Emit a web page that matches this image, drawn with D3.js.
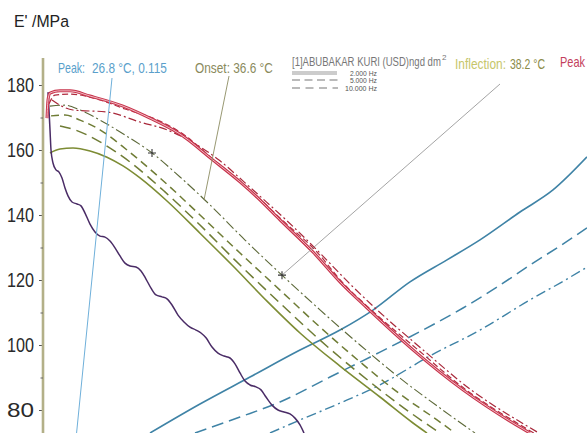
<!DOCTYPE html>
<html><head><meta charset="utf-8">
<script src="https://cdn.jsdelivr.net/npm/d3@7"></script>
<style>
body{margin:0;background:#fff}
svg{display:block;background:#fff}
text{font-family:"Liberation Sans",Arial,Helvetica,sans-serif}
</style>
</head><body>
<svg id="chart" width="587" height="433"></svg>
<script>
// ---------- DATA (temperature °C, value) ----------
const yTickValues = [80, 100, 120, 140, 160, 180];
const yMinorTickValues = [90, 110, 130, 150, 170];
const legendLabels = ["2.000 Hz", "5.000 Hz", "10.000 Hz"];

// Storage modulus E' (MPa), red set
const eRed2Hz = [[10.5,169.8],[10.6,175.4],[10.8,177.5],[11.8,178.2],[12.8,178.2],[14.8,176.6],[18.1,173.5],[20.8,169.8],[23.8,164.9],[27.1,156.9],[29.8,150.2],[31.5,145.5],[33.8,138.5],[37.1,128.6],[39.8,119.4],[42.5,111.4],[47.1,98.5],[52.1,86.2],[57.1,76.0],[58.8,72.9]];
const eRed5Hz = [[10.7,174.2],[11.3,176.9],[12.8,177.2],[15.8,175.4],[18.3,172.6],[21.1,169.8],[24.1,164.9],[27.2,156.9],[29.9,150.2],[31.6,145.5],[34.0,138.5],[37.5,128.6],[40.0,119.4],[42.7,111.4],[47.6,98.5],[52.4,86.2],[57.5,76.0],[59.2,72.9]];
const eRed10Hz = [[11.0,175.4],[11.8,173.8],[13.1,172.3],[16.5,171.7],[19.8,168.6],[22.5,166.2],[24.8,162.8],[27.7,156.9],[30.2,150.2],[31.9,145.5],[34.4,138.5],[37.7,128.6],[40.6,119.4],[43.3,111.4],[48.1,98.5],[52.9,86.2],[58.0,76.0],[59.7,72.9]];

// Storage modulus E' (MPa), olive set
const eOliveSolid = [[10.8,159.1],[11.8,160.3],[13.1,160.6],[14.8,159.7],[16.5,157.8],[18.1,155.1],[19.8,151.4],[22.5,144.3],[25.8,134.4],[29.1,124.3],[32.5,113.5],[35.8,103.7],[39.8,93.5],[43.8,84.0],[47.1,76.0],[48.5,72.9]];
const eOliveDash = [[10.9,170.5],[12.3,170.8],[13.8,169.2],[15.8,166.2],[18.5,160.0],[21.8,151.4],[25.8,140.0],[29.8,128.3],[33.8,116.9],[37.8,105.5],[41.8,94.8],[45.8,84.9],[49.8,76.3],[51.3,72.9]];
const eOliveLongDash = [[11.8,167.4],[13.3,166.2],[15.8,162.5],[18.8,156.3],[22.3,147.1],[25.8,136.9],[29.8,124.6],[33.8,112.9],[37.8,101.5],[41.8,91.1],[45.8,81.5],[49.8,72.9]];
const eOliveDashDot = [[10.8,173.5],[12.3,173.8],[13.8,172.3],[15.8,169.2],[18.3,164.6],[21.0,159.1],[23.8,151.7],[26.8,143.1],[30.3,132.3],[34.0,121.5],[37.8,110.8],[41.8,100.0],[45.8,89.8],[49.8,80.6],[53.3,72.9]];

// Purple curve (same MPa axis)
const ePurple = [[10.6,177.8],[10.7,172.3],[10.8,166.2],[10.9,160.0],[11.1,156.0],[11.4,153.9],[11.7,153.2],[12.0,151.4],[12.3,148.3],[12.6,145.9],[13.0,144.0],[13.5,143.4],[13.9,142.8],[14.3,140.6],[14.8,137.2],[15.3,134.8],[15.8,133.5],[16.3,133.2],[16.8,132.0],[17.3,129.9],[17.8,127.4],[18.3,125.2],[18.8,124.3],[19.4,124.0],[19.9,122.8],[20.4,120.3],[20.9,117.5],[21.4,115.4],[22.0,114.8],[22.5,114.2],[23.0,112.3],[23.6,109.2],[24.2,107.1],[24.8,105.5],[25.4,104.6],[25.9,103.7],[26.4,102.2],[27.0,99.4],[27.6,97.5],[28.2,96.6],[28.8,96.0],[29.3,94.2],[29.8,91.4],[30.3,88.9],[30.8,87.7],[31.4,87.1],[31.9,86.2],[32.4,84.0],[33.0,81.5],[33.6,80.0],[34.2,79.4],[34.8,78.8],[35.3,77.5],[35.8,75.4],[36.2,72.9]];

// tan delta (secondary, hidden axis), blue set
const tan2Hz = [[20.8,0.0200],[25.8,0.0300],[30.8,0.0393],[35.8,0.0486],[39.8,0.0555],[43.1,0.0624],[46.8,0.0721],[50.5,0.0797],[53.8,0.0866],[57.8,0.0962],[61.1,0.1038],[64.5,0.1152]];
const tan5Hz = [[25.3,0.0200],[29.8,0.0255],[33.8,0.0307],[38.8,0.0393],[43.8,0.0479],[48.1,0.0555],[52.1,0.0631],[55.5,0.0703],[58.8,0.0779],[61.8,0.0845],[64.5,0.0907]];
const tan10Hz = [[32.8,0.0200],[35.8,0.0245],[39.8,0.0303],[43.8,0.0366],[48.8,0.0466],[53.8,0.0555],[58.8,0.0659],[61.8,0.0717],[64.5,0.0772]];

// analysis points (temperature, E')
const onsetPoint = [21.0, 159.1];
const inflectionPoint = [34.0, 121.5];
const onsetPointerEnd = [26.2, 144.6];
const peakPointerEnd = [13.2, 65.0];

// ---------- CHART ----------
const svg = d3.select("#chart");
const x = d3.scaleLinear().domain([10, 64.5]).range([42, 587]);
const y = d3.scaleLinear().domain([180, 80]).range([85, 410]);
const yTan = d3.scaleLinear().domain([0.02, 0.14]).range([433, 85]);

svg.append("defs").append("clipPath").attr("id","plot")
  .append("rect").attr("x",43).attr("y",0).attr("width",544).attr("height",433);

const lineE = d3.line().x(d=>x(d[0])).y(d=>y(d[1])).curve(d3.curveMonotoneX);
const lineT = d3.line().x(d=>x(d[0])).y(d=>yTan(d[1])).curve(d3.curveMonotoneX);

const g = svg.append("g").attr("clip-path","url(#plot)");

function path(data, gen, stroke, width, dash){
  const p = g.append("path").datum(data).attr("d", gen)
    .attr("fill","none").attr("stroke",stroke).attr("stroke-width",width)
    .attr("stroke-linejoin","round");
  if (dash) p.attr("stroke-dasharray", dash);
  return p;
}

// blue set
path(tan2Hz, lineT, "#3f83a6", 1.6);
path(tan5Hz, lineT, "#3f83a6", 1.5, "12,6");
path(tan10Hz, lineT, "#3f83a6", 1.4, "10,4,2,4");

// olive set
path(eOliveSolid, lineE, "#7d8c34", 1.6);
path(eOliveLongDash, lineE, "#6f7c35", 1.5, "11,6");
path(eOliveDash, lineE, "#6f7c35", 1.5, "8,5");
path(eOliveDashDot, lineE, "#5c6838", 1.1, "10,3,2,3");

// purple
path(ePurple, lineE, "#4a2c66", 1.5);

// red set
path(eRed10Hz, lineE, "#a8283a", 1.2, "8,3,2,3");
path(eRed5Hz, lineE, "#b02a3e", 1.2, "6,3");
path(eRed2Hz, lineE, "#c8344c", 3.0);
path(eRed2Hz, lineE, "#f4c9d0", 0.9);

// pointer lines
g.append("line").attr("x1",112).attr("y1",78)
  .attr("x2",x(peakPointerEnd[0])).attr("y2",y(peakPointerEnd[1]))
  .attr("stroke","#6fb0da").attr("stroke-width",1);
g.append("line").attr("x1",229).attr("y1",76)
  .attr("x2",x(onsetPointerEnd[0])).attr("y2",y(onsetPointerEnd[1]))
  .attr("stroke","#8c8c62").attr("stroke-width",0.9);
g.append("line").attr("x1",500).attr("y1",84)
  .attr("x2",x(inflectionPoint[0])).attr("y2",y(inflectionPoint[1]))
  .attr("stroke","#9a9a9a").attr("stroke-width",0.9);

// + markers
[onsetPoint, inflectionPoint].forEach(p=>{
  const cx = x(p[0]), cy = y(p[1]);
  g.append("path").attr("d",`M${cx-4},${cy}H${cx+4}M${cx},${cy-4}V${cy+4}`)
    .attr("stroke","#333").attr("stroke-width",1.1);
});

// axis
const axis = svg.append("g").attr("transform","translate(43,0)");
axis.call(d3.axisLeft(y).tickValues(yTickValues).tickSize(4).tickPadding(5).tickSizeOuter(0));
axis.select(".domain").remove();
axis.append("line").attr("x1",0).attr("x2",0).attr("y1",58).attr("y2",433)
  .attr("stroke","#b3b088").attr("stroke-width",2.6);
axis.selectAll(".tick line").attr("stroke","#555").attr("stroke-width",1);
axis.selectAll(".tick text").attr("fill","#2a2a2a").attr("font-size",20)
  .attr("textLength",27).attr("lengthAdjust","spacingAndGlyphs")
  .attr("font-family","'Liberation Sans',Arial,sans-serif");
const minor = svg.append("g").attr("transform","translate(43,0)");
minor.call(d3.axisLeft(y).tickValues(yMinorTickValues).tickSize(2.5).tickFormat(""));
minor.select(".domain").remove();
minor.selectAll(".tick line").attr("stroke","#666");

// condensed labels: natural font, then squeezed horizontally to target width
function label(txt, xx, yy, size, len, fill, anchor){
  const t = svg.append("text").attr("x",0).attr("y",0).attr("font-size",size)
    .attr("fill",fill).text(txt);
  const w = t.node().getComputedTextLength();
  const sx = len / w;
  const x0 = anchor === "end" ? xx - len : xx;
  t.attr("transform",`translate(${x0},${yy}) scale(${sx},1)`);
  return t;
}

// title
label("E' /MPa", 14, 27, 17, 55, "#222");

// annotations
label("Peak:", 58, 73, 14, 27, "#5a9fcb");
label("26.8 °C, 0.115", 92, 73, 14, 75, "#5a9fcb");
label("Onset: 36.6 °C", 195, 73, 14, 78, "#8a8a5c");
label("[1]ABUBAKAR KURI (USD)ngd dm", 292, 66, 12, 149, "#777");
label("2", 442, 60, 8, 4.5, "#777");
label("Inflection:", 455, 69, 15, 51, "#c6c66a");
label("38.2 °C", 510, 69, 15, 35, "#8b8b48");
label("Peak", 560, 67, 14, 25, "#c3405c");

// legend
const legendY = [73, 80, 88];
const dashes = [null, "8,4.5", "8,5.5"];
legendLabels.forEach((lab,i)=>{
  if (i===0){
    svg.append("line").attr("x1",292).attr("x2",337).attr("y1",legendY[i]-1).attr("y2",legendY[i]-1).attr("stroke","#999").attr("stroke-width",1);
    svg.append("line").attr("x1",292).attr("x2",337).attr("y1",legendY[i]+1).attr("y2",legendY[i]+1).attr("stroke","#999").attr("stroke-width",1);
  } else {
    svg.append("line").attr("x1",292).attr("x2",338).attr("y1",legendY[i]).attr("y2",legendY[i])
      .attr("stroke","#777").attr("stroke-width",1.2).attr("stroke-dasharray",dashes[i]);
  }
  label(lab, 377, legendY[i]+2.5, 7, i===2?32:27, "#555", "end");
});
</script>
</body></html>
